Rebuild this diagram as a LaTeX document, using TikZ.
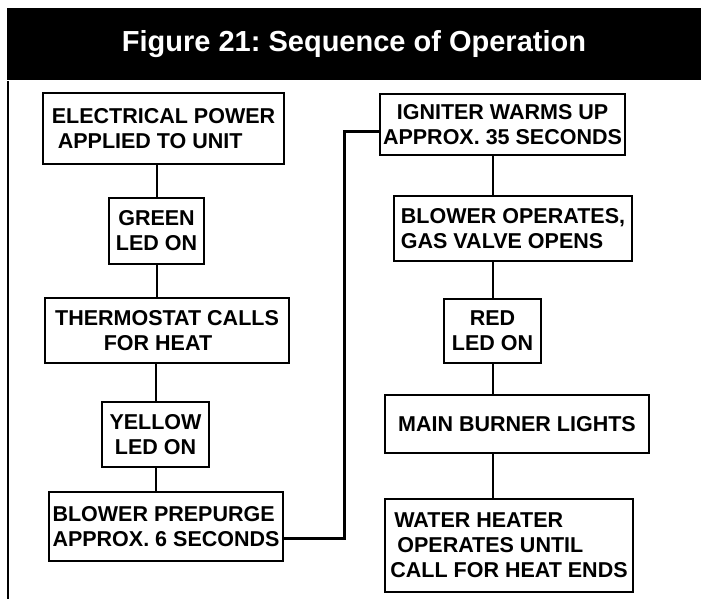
\documentclass[tikz,border=0pt]{standalone}
\usepackage{fontspec}
\setmainfont{Liberation Sans}
\usepackage{tikz}
\usetikzlibrary{calc}

\begin{document}
\begin{tikzpicture}[x=1pt,y=-1pt,line width=2pt,
    stepbox/.style={draw,line width=2.2pt,inner sep=0pt,font=\fontsize{21.5}{25}\selectfont\bfseries},
    link/.style={line width=2pt}]
  \useasboundingbox (0,0) rectangle (701,599);
  \node[fill=black,text=white,minimum width=694pt,minimum height=72pt,inner sep=0pt,
        font=\fontsize{29}{34}\selectfont\bfseries\frenchspacing] (title) at (354,44) {Figure 21: Sequence of Operation};
  \draw[link] ([xshift=2pt]title.south west) -- ++(0,518);
  % left column
  \node[stepbox,minimum width=241pt,minimum height=71pt,align=left] (power) at (163.5,128.5) {ELECTRICAL POWER\\\hspace*{6pt}APPLIED TO UNIT};
  \node[stepbox,minimum width=95pt,minimum height=66pt,align=center] (green) at (156.5,231) {GREEN\\LED ON};
  \node[stepbox,minimum width=244pt,minimum height=65pt,align=center] (thermo) at (167,330.5) {THERMOSTAT CALLS\\FOR HEAT\hspace*{18pt}};
  \node[stepbox,minimum width=107pt,minimum height=65pt,align=center] (yellow) at (155.5,434.5) {YELLOW\\LED ON};
  \node[stepbox,minimum width=234pt,minimum height=69pt,align=left] (prepurge) at (166,526.5) {BLOWER PREPURGE\\APPROX. 6 SECONDS};
  % right column
  \node[stepbox,minimum width=245pt,minimum height=61pt,align=center] (igniter) at (502.5,124.5) {IGNITER WARMS UP\\APPROX. 35 SECONDS};
  \node[stepbox,minimum width=238pt,minimum height=65pt,align=left] (valve) at (513,228.5) {BLOWER OPERATES,\\GAS VALVE OPENS};
  \node[stepbox,minimum width=97pt,minimum height=64pt,align=center] (red) at (492.5,331) {RED\\LED ON};
  \node[stepbox,minimum width=264pt,minimum height=58pt] (burner) at (517,424) {MAIN BURNER LIGHTS};
  \node[stepbox,minimum width=248pt,minimum height=93pt,align=left] (heater) at (509,545.5) {\hspace*{4pt}WATER HEATER\\\hspace*{7pt}OPERATES UNTIL\\CALL FOR HEAT ENDS};
  % connectors
  \draw[link] (green.north) -- (green.north |- power.south);
  \draw[link] (green.south) -- (green.south |- thermo.north);
  \draw[link] (yellow.north) -- (yellow.north |- thermo.south);
  \draw[link] (yellow.south) -- (yellow.south |- prepurge.north);
  \draw[link,line width=3pt] ([yshift=-12pt]prepurge.east) -- ++(60,0) |- ([yshift=-7pt]igniter.west);
  \draw[link] (igniter.south -| red) -- (valve.north -| red);
  \draw[link] (red.north) -- (red.north |- valve.south);
  \draw[link] (red.south) -- (red.south |- burner.north);
  \draw[link] (burner.south -| red) -- (heater.north -| red);
\end{tikzpicture}
\end{document}
